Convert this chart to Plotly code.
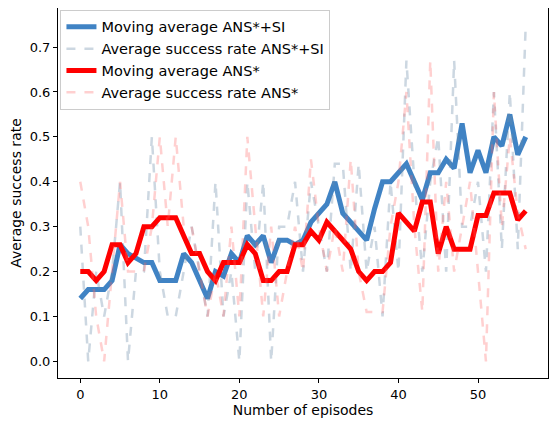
import plotly.graph_objects as go

episodes = list(range(57))

ma_ans_si = [0.14, 0.16, 0.16, 0.16, 0.18, 0.26, 0.24, 0.23, 0.22, 0.22, 0.18, 0.18, 0.18, 0.24, 0.22,
             0.18, 0.14, 0.20, 0.19, 0.24, 0.22, 0.28, 0.26, 0.28, 0.22, 0.27, 0.27, 0.26, 0.27, 0.31,
             0.33, 0.35, 0.40, 0.33, 0.31, 0.29, 0.27, 0.34, 0.40, 0.40, 0.42, 0.44, 0.40, 0.36, 0.42,
             0.42, 0.45, 0.43, 0.53, 0.42, 0.47, 0.42, 0.50, 0.48, 0.55, 0.46, 0.50]
sr_ans_si = [0.3, 0.0, 0.2, 0.1, 0.2, 0.4, 0.0, 0.2, 0.2, 0.5, 0.2, 0.1, 0.1, 0.2, 0.3, 0.2, 0.1, 0.4, 0.1,
             0.2, 0.0, 0.4, 0.2, 0.4, 0.0, 0.3, 0.3, 0.4, 0.2, 0.4, 0.3, 0.2, 0.44, 0.44, 0.2, 0.44, 0.2,
             0.3, 0.1, 0.4, 0.2, 0.67, 0.4, 0.2, 0.4, 0.5, 0.2, 0.67, 0.3, 0.3, 0.4, 0.2, 0.6, 0.25, 0.6,
             0.25, 0.75]
ma_ans = [0.20, 0.20, 0.18, 0.20, 0.26, 0.26, 0.22, 0.24, 0.30, 0.30, 0.32, 0.32, 0.32, 0.28, 0.24, 0.24,
          0.20, 0.18, 0.22, 0.22, 0.22, 0.26, 0.24, 0.18, 0.18, 0.20, 0.20, 0.26, 0.26, 0.29, 0.27, 0.31,
          0.29, 0.27, 0.25, 0.20, 0.18, 0.20, 0.20, 0.22, 0.33, 0.31, 0.29, 0.355, 0.355, 0.24, 0.30, 0.25,
          0.25, 0.25, 0.325, 0.325, 0.375, 0.375, 0.375, 0.315, 0.335]
sr_ans = [0.4, 0.3, 0.1, 0.0, 0.2, 0.4, 0.2, 0.2, 0.2, 0.3, 0.5, 0.3, 0.5, 0.3, 0.3, 0.2, 0.1, 0.2, 0.1,
          0.3, 0.1, 0.5, 0.3, 0.1, 0.3, 0.1, 0.2, 0.3, 0.2, 0.45, 0.3, 0.2, 0.3, 0.2, 0.45, 0.2, 0.11,
          0.11, 0.11, 0.3, 0.4, 0.6, 0.3, 0.11, 0.67, 0.2, 0.4, 0.2, 0.3, 0.4, 0.2, 0.0, 0.6, 0.3, 0.5,
          0.33, 0.25]

fig = go.Figure()
fig.add_trace(go.Scatter(x=episodes, y=ma_ans_si, mode='lines', name='Moving average ANS*+SI',
                         line=dict(color='rgba(31,109,186,0.85)', width=5)))
fig.add_trace(go.Scatter(x=episodes, y=sr_ans_si, mode='lines', name='Average success rate ANS*+SI',
                         line=dict(color='rgba(110,140,170,0.35)', width=2.5, dash='dash')))
fig.add_trace(go.Scatter(x=episodes, y=ma_ans, mode='lines', name='Moving average ANS*',
                         line=dict(color='red', width=5)))
fig.add_trace(go.Scatter(x=episodes, y=sr_ans, mode='lines', name='Average success rate ANS*',
                         line=dict(color='rgba(255,100,100,0.3)', width=2.5, dash='dash')))

axis_style = dict(showgrid=False, zeroline=False, showline=True, mirror=True, linecolor='black',
                  linewidth=1, ticks='outside', ticklen=4, tickcolor='black', automargin=False,
                  tickfont=dict(size=13))
fig.update_xaxes(title=dict(text='Number of episodes', standoff=4, font=dict(size=14)),
                 range=[-2.8, 58.8], tickvals=[0, 10, 20, 30, 40, 50], **axis_style)
fig.update_yaxes(title=dict(text='Average success rate', standoff=6, font=dict(size=14)),
                 range=[-0.037, 0.787], tickvals=[0.0, 0.1, 0.2, 0.3, 0.4, 0.5, 0.6, 0.7],
                 tickformat='.1f', **axis_style)
fig.update_layout(
    width=551, height=415,
    margin=dict(l=50, r=11, t=0, b=45),
    plot_bgcolor='white', paper_bgcolor='white',
    font=dict(family='DejaVu Sans', size=13, color='black'),
    legend=dict(x=0.005, y=0.995, xanchor='left', yanchor='top', bgcolor='rgba(255,255,255,0.8)',
                bordercolor='#cccccc', borderwidth=1, font=dict(size=14.5), tracegroupgap=0),
)
fig.write_html("out.html")
